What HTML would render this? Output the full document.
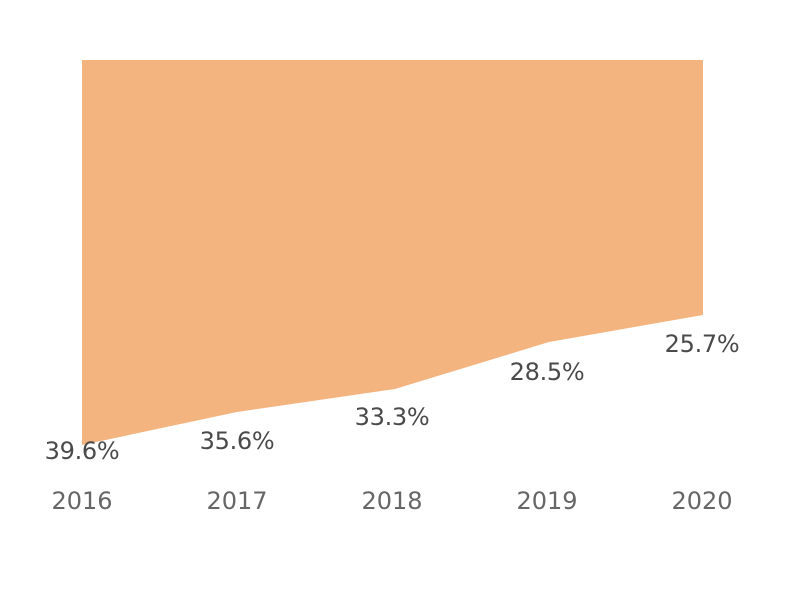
<!DOCTYPE html>
<html><head><style>
html,body{margin:0;padding:0;background:#fff;}
svg text{font-family:"DejaVu Sans","Liberation Sans",sans-serif;}
</style></head><body>
<svg width="800" height="600" viewBox="0 0 800 600" xmlns="http://www.w3.org/2000/svg">
<polygon points="82,60 703,60 703,315 549,342 395,389 237,412 82,445" fill="#F4B47F"/>
<g font-size="24" fill="#4a4a4a" text-anchor="middle" letter-spacing="-0.3">
<text x="82" y="459">39.6%</text>
<text x="237" y="449">35.6%</text>
<text x="392" y="425">33.3%</text>
<text x="547" y="380">28.5%</text>
<text x="702" y="352">25.7%</text>
</g>
<g font-size="24" fill="#666" text-anchor="middle">
<text x="82" y="509">2016</text>
<text x="237" y="509">2017</text>
<text x="392" y="509">2018</text>
<text x="547" y="509">2019</text>
<text x="702" y="509">2020</text>
</g>
</svg>
</body></html>
